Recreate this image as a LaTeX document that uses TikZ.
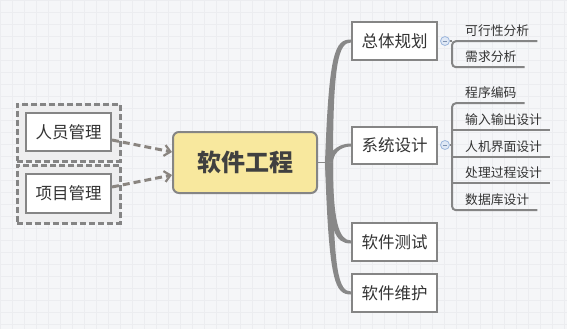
\documentclass[tikz,border=0pt]{standalone}
\usepackage{fontspec}
\setmainfont{Noto Sans CJK SC}
\usetikzlibrary{arrows.meta,calc}
\definecolor{bg}{HTML}{F5F6F8}
\definecolor{gridc}{HTML}{ECEDF0}
\definecolor{boxc}{HTML}{858585}
\definecolor{txt}{HTML}{333333}
\definecolor{brc}{HTML}{888888}
\definecolor{yel}{HTML}{F8E89E}
\definecolor{grpfill}{HTML}{EEEEEF}
\definecolor{arrc}{HTML}{8A8580}
\definecolor{collfill}{HTML}{DFE8F5}
\definecolor{colldraw}{HTML}{9DB7DD}
\tikzset{
  topic/.style={draw=boxc, line width=2pt, fill=white, minimum width=85pt, minimum height=38pt,
    inner sep=0pt, text=txt, font=\fontsize{16.5pt}{18pt}\selectfont},
  central/.style={draw=boxc, line width=2pt, fill=yel, rounded corners=6pt, minimum width=144pt,
    minimum height=61pt, inner sep=0pt, text=black!75, font=\fontsize{24pt}{26pt}\selectfont\bfseries},
  grp/.style={draw=boxc, line width=3pt, dash pattern=on 6pt off 3pt, fill=grpfill, minimum width=103pt,
    minimum height=57pt},
  leaf/.style={inner sep=0pt, minimum height=21pt, anchor=west, text=txt,
    font=\fontsize{12.8pt}{14pt}\selectfont},
  sub/.style={draw=boxc, line width=2pt},
  coll/.style={circle, draw=colldraw, fill=collfill, line width=0.8pt, minimum size=9pt, inner sep=0pt},
  darrow/.style={draw=arrc, line width=3pt, dash pattern=on 7pt off 4pt,
    -{Straight Barb[length=6pt,width=11pt,line width=2.2pt]}},
}
\begin{document}
\begin{tikzpicture}[x=1pt,y=-1pt]
\useasboundingbox (0,0) rectangle (567,329);
\fill[bg] (0,0) rectangle (567,329);
\draw[gridc, line width=0.6pt, step=12pt] (0,0) grid (567,329);

% left groups
\node[grp] (g1) at (68.5,132.5) {};
\node[grp, minimum height=58pt] (g2) at (68.5,194) {};
\node[topic] (p1) at (68.5,132) {人员管理};
\node[topic, minimum height=39pt] (p2) at (68.5,193.5) {项目管理};

% central
\node[central] (c) at (245,162.5) {软件工程};

% arrows
\draw[darrow] ([yshift=-8pt]p1.east) -- ([yshift=10.5pt]c.west);
\draw[darrow] ([yshift=6.5pt]p2.east) -- ([yshift=-12.5pt]c.west);

% main topics
\node[topic] (b1) at (394.5,41) {总体规划};
\node[topic, minimum height=37pt] (b2) at (394.5,145) {系统设计};
\node[topic] (b3) at (394.5,242) {软件测试};
\node[topic] (b4) at (394.5,293) {软件维护};

% trunk / branches
\coordinate (root) at ($(c.east)+(11,0)$);
\draw[brc, line width=1.5pt] (c.east) -- (root);
\fill[brc] ($(root)+(-4,0)$) .. controls ($(root|-b1.west)+(0,10)$) and ($(b1.west)+(-16,-1.5)$) .. ($(b1.west)+(0,-1.5)$)
  -- ($(b1.west)+(0,1.5)$) .. controls ($(b1.west)+(-12,1.5)$) and ($(root|-b1.west)+(4,20)$) .. ($(root)+(4,0)$) -- cycle;
\fill[brc] ($(root)+(-4,0)$) .. controls ($(root|-b2.west)+(0,10)$) and ($(b2.west)+(-16,-1.5)$) .. ($(b2.west)+(0,-1.5)$)
  -- ($(b2.west)+(0,1.5)$) .. controls ($(b2.west)+(-12,1.5)$) and ($(root|-b2.west)+(4,10)$) .. ($(root)+(4,0)$) -- cycle;
\fill[brc] ($(root)+(-4,0)$) .. controls ($(root|-b3.west)+(0,-10)$) and ($(b3.west)+(-16,1.5)$) .. ($(b3.west)+(0,1.5)$)
  -- ($(b3.west)+(0,-1.5)$) .. controls ($(b3.west)+(-12,-1.5)$) and ($(root|-b3.west)+(4,-20)$) .. ($(root)+(4,0)$) -- cycle;
\fill[brc] ($(root)+(-4,0)$) .. controls ($(root|-b4.west)+(0,-10)$) and ($(b4.west)+(-16,1.5)$) .. ($(b4.west)+(0,1.5)$)
  -- ($(b4.west)+(0,-1.5)$) .. controls ($(b4.west)+(-12,-1.5)$) and ($(root|-b4.west)+(4,-20)$) .. ($(root)+(4,0)$) -- cycle;
% redraw topic boxes on top of branch ends
\node[topic] at (b1) {总体规划};
\node[topic, minimum height=37pt] at (b2) {系统设计};
\node[topic] at (b3) {软件测试};
\node[topic] at (b4) {软件维护};

% leaves of 总体规划
\node[leaf] (a1) at (465,30.5) {可行性分析};
\node[leaf] (a2) at (465,56.5) {需求分析};
\node[coll] (k1) at ($(b1.east)+(7,0)$) {};
\coordinate (j1) at (452,41);
\draw[sub] (k1.east) -- (j1);
\draw[sub, rounded corners=4pt] ($(a1.south east)+(8,0)$) -- (a1.south -| j1) -- (a2.south -| j1) -- ($(a2.south east)+(8,0)$);
\draw[colldraw!80!black, line width=0.8pt] ($(k1)+(-2.2,0)$) -- ($(k1)+(2.2,0)$);

% leaves of 系统设计
\node[leaf] (s1) at (465,92.5) {程序编码};
\node[leaf] (s2) at (465,119.5) {输入输出设计};
\node[leaf] (s3) at (465,146.5) {人机界面设计};
\node[leaf] (s4) at (465,172.5) {处理过程设计};
\node[leaf] (s5) at (465,199.5) {数据库设计};
\node[coll] (k2) at ($(b2.east)+(7,0)$) {};
\coordinate (j2) at (452,145);
\draw[sub] (k2.east) -- (j2);
\draw[sub, rounded corners=4pt] ($(s1.south east)+(8,0)$) -- (s1.south -| j2) -- (s5.south -| j2) -- ($(s5.south east)+(8,0)$);
\draw[sub] (s2.south -| j2) -- ($(s2.south east)+(8,0)$);
\draw[sub] (s3.south -| j2) -- ($(s3.south east)+(8,0)$);
\draw[sub] (s4.south -| j2) -- ($(s4.south east)+(8,0)$);
\draw[colldraw!80!black, line width=0.8pt] ($(k2)+(-2.2,0)$) -- ($(k2)+(2.2,0)$);
\end{tikzpicture}
\end{document}
